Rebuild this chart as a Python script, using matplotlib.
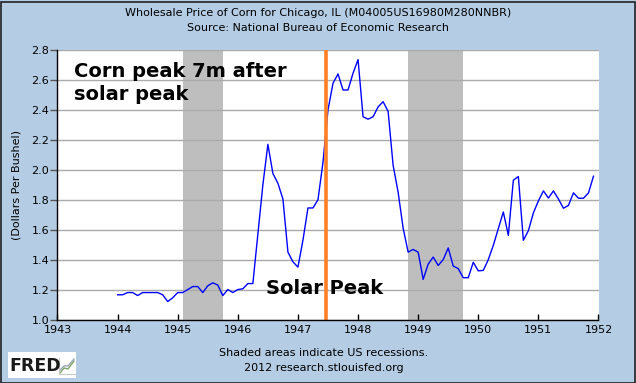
import numpy as np
import matplotlib
matplotlib.use("Agg")
import matplotlib.pyplot as plt
from matplotlib.patches import Rectangle
from matplotlib.lines import Line2D

# ---- data (monthly, Jan 1944 - Dec 1951) ----
start_year = 1944
price_1944 = [1.165, 1.165, 1.18, 1.18, 1.16, 1.18, 1.18, 1.18, 1.18, 1.165, 1.12, 1.145]
price_1945 = [1.18, 1.18, 1.20, 1.22, 1.22, 1.18, 1.225, 1.245, 1.23, 1.16, 1.20, 1.18]
price_1946 = [1.20, 1.205, 1.24, 1.24, 1.57, 1.90, 2.17, 1.975, 1.91, 1.805, 1.45, 1.385]
price_1947 = [1.35, 1.53, 1.745, 1.745, 1.80, 2.05, 2.40, 2.578, 2.64, 2.533, 2.533, 2.645]
price_1948 = [2.736, 2.354, 2.338, 2.354, 2.42, 2.455, 2.39, 2.03, 1.85, 1.61, 1.45, 1.468]
price_1949 = [1.45, 1.268, 1.37, 1.417, 1.361, 1.40, 1.478, 1.357, 1.34, 1.279, 1.279, 1.382]
price_1950 = [1.325, 1.328, 1.40, 1.495, 1.607, 1.718, 1.562, 1.93, 1.955, 1.529, 1.593, 1.712]
price_1951 = [1.792, 1.859, 1.811, 1.859, 1.805, 1.743, 1.762, 1.846, 1.81, 1.81, 1.845, 1.957]

recessions = [(1945 + 1/12, 1945 + 9/12), (1948 + 10/12, 1949 + 9/12)]
solar_peak = 1947.47

x_ticks = list(range(1943, 1953))
y_ticks = [1.0, 1.2, 1.4, 1.6, 1.8, 2.0, 2.2, 2.4, 2.6, 2.8]

prices = (price_1944 + price_1945 + price_1946 + price_1947 +
          price_1948 + price_1949 + price_1950 + price_1951)
dates = [start_year + i / 12 for i in range(len(prices))]

BG = '#B4CDE4'
W, H = 636, 383
FS = 8

fig = plt.figure(figsize=(W / 100, H / 100), dpi=100, facecolor=BG)
ax = fig.add_axes([57.5 / W, 1 - 319.5 / H, (598.5 - 57.5) / W, (319.5 - 50) / H])
ax.set_facecolor('white')

for a, b in recessions:
    ax.axvspan(a, b, color='#BEBEBE', lw=0, zorder=1)

ax.set_xlim(1943, 1952)
ax.set_ylim(1.0, 2.8)
ax.set_yticks(y_ticks)
ax.set_yticklabels([f'{v:.1f}' for v in y_ticks])
ax.set_xticks(x_ticks)
ax.set_xticklabels([str(v) for v in x_ticks])
ax.yaxis.grid(True, color='#AAAAAA', lw=1, zorder=2)
ax.set_axisbelow(False)

ax.plot(dates, prices, color='#0000FF', lw=1, zorder=4)
ax.axvline(solar_peak, color='#FF7F27', lw=2.6, zorder=5)

for s in ['top', 'right']:
    ax.spines[s].set_visible(False)
for s in ['left', 'bottom']:
    ax.spines[s].set_color('black')
    ax.spines[s].set_linewidth(1)
    ax.spines[s].set_zorder(6)

ax.tick_params(axis='x', direction='in', length=4, width=1, pad=4,
               labelsize=FS, colors='black')
ax.tick_params(axis='y', direction='out', length=5, width=1, pad=1,
               labelsize=FS, colors='black')
ax.tick_params(axis='y', color='#555555')
ax.set_ylabel('(Dollars Per Bushel)', fontsize=FS, labelpad=7)

# annotations
ax.text(74 / W, 1 - 62 / H, 'Corn peak 7m after\nsolar peak', transform=fig.transFigure,
        fontsize=14, fontweight='bold', ha='left', va='top', linespacing=1.3, zorder=7)
ax.text(266 / W, 1 - 289 / H, 'Solar Peak', transform=fig.transFigure,
        fontsize=14, fontweight='bold', ha='left', va='center', zorder=7)

# titles
fig.text(0.5, 1 - 13 / H, 'Wholesale Price of Corn for Chicago, IL (M04005US16980M280NNBR)',
         ha='center', va='center', fontsize=FS)
fig.text(0.5, 1 - 28 / H, 'Source: National Bureau of Economic Research',
         ha='center', va='center', fontsize=FS)
fig.text(324 / W, 1 - 353 / H, 'Shaded areas indicate US recessions.',
         ha='center', va='center', fontsize=FS)
fig.text(324 / W, 1 - 368 / H, '2012 research.stlouisfed.org',
         ha='center', va='center', fontsize=FS)

# FRED logo
fig.add_artist(Rectangle((8 / W, 1 - 378 / H), 68 / W, 26 / H, transform=fig.transFigure,
                         facecolor='white', edgecolor='none'))
fig.text(9 / W, 1 - 366 / H, 'FRED', ha='left', va='center', fontsize=12.5,
         fontweight='heavy', color='#1a1a1a', family='DejaVu Sans')
fig.add_artist(Line2D(np.array([60, 64, 68, 74]) / W, 1 - np.array([373, 368, 369, 361]) / H,
                      color='#7FA36B', lw=1))
fig.add_artist(Line2D(np.array([60, 64, 68, 74]) / W, 1 - np.array([370, 366, 366, 359]) / H,
                      color='#9AA7B5', lw=1))
fig.add_artist(Line2D(np.array([59, 59, 75]) / W, 1 - np.array([358, 374, 374]) / H,
                      color='#C8C8C8', lw=0.8))

# outer border
fig.add_artist(Rectangle((0.5 / W, 0.5 / H), (W - 2) / W, (H - 2) / H, transform=fig.transFigure,
                         facecolor='none', edgecolor='#222222', lw=1.2))

fig.savefig('out.png', dpi=100, facecolor=BG)
